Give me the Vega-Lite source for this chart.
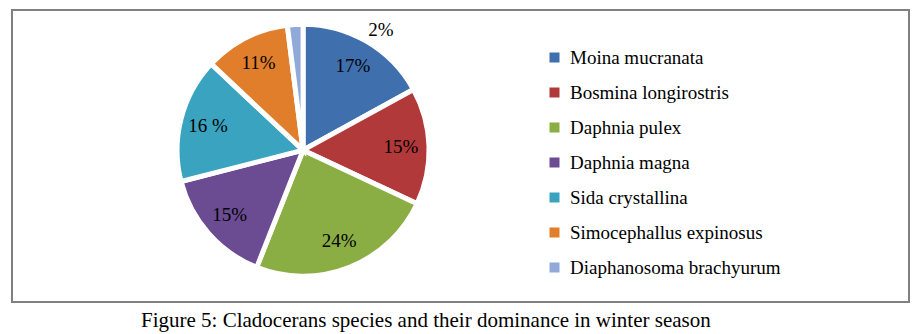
{
  "$schema": "https://vega.github.io/schema/vega-lite/v6.json",
  "width": 897,
  "height": 292,
  "autosize": {"type": "none"},
  "padding": {"left": 12, "top": 10, "right": 13, "bottom": 32},
  "background": "white",
  "view": {"stroke": "#808080", "strokeWidth": 2, "fill": "white"},
  "config": {
    "view": {"stroke": "#808080", "strokeWidth": 2},
    "font": "Liberation Serif"
  },
  "title": {
    "text": "Figure 5: Cladocerans species and their dominance in winter season",
    "orient": "bottom",
    "anchor": "start",
    "dx": 129,
    "offset": 8,
    "font": "Liberation Serif",
    "fontSize": 21,
    "fontWeight": "normal",
    "color": "black"
  },
  "data": {
    "values": [
      {"species": "Moina mucranata", "value": 17, "label": "17%", "rank": 1},
      {"species": "Bosmina longirostris", "value": 15, "label": "15%", "rank": 2},
      {"species": "Daphnia pulex", "value": 24, "label": "24%", "rank": 3},
      {"species": "Daphnia magna", "value": 15, "label": "15%", "rank": 4},
      {"species": "Sida crystallina", "value": 16, "label": "16 %", "rank": 5},
      {"species": "Simocephallus expinosus", "value": 11, "label": "11%", "rank": 6},
      {"species": "Diaphanosoma brachyurum", "value": 2, "label": "2%", "rank": 7}
    ]
  },
  "layer": [
    {
      "mark": {"type": "arc", "outerRadius": 126, "stroke": "white", "strokeWidth": 5, "x": {"expr": "width*0.3245"}, "y": {"expr": "height*0.48"}},
      "encoding": {
        "theta": {"field": "value", "type": "quantitative", "stack": true},
        "order": {"field": "rank", "type": "quantitative"},
        "color": {
          "field": "species",
          "type": "nominal",
          "scale": {
            "domain": ["Moina mucranata", "Bosmina longirostris", "Daphnia pulex", "Daphnia magna", "Sida crystallina", "Simocephallus expinosus", "Diaphanosoma brachyurum"],
            "range": ["#3F6FAD", "#B2393A", "#8AAE44", "#6B4C93", "#3AA3BF", "#E17E2B", "#90A9D8"]
          },
          "legend": {
            "title": null,
            "orient": "none",
            "legendX": 533,
            "legendY": 38,
            "symbolType": "square",
            "symbolSize": 100,
            "symbolStrokeWidth": 0,
            "labelFont": "Liberation Serif",
            "labelFontSize": 19,
            "labelColor": "black",
            "labelOffset": 6,
            "rowPadding": 15,
            "labelLimit": 400
          }
        }
      }
    },
    {
      "transform": [{"filter": "datum.rank < 7"}],
      "mark": {"type": "text", "radius": 98, "font": "Liberation Serif", "fontSize": 19, "color": "black", "x": {"expr": "width*0.3245"}, "y": {"expr": "height*0.48"}},
      "encoding": {
        "theta": {"field": "value", "type": "quantitative", "stack": true},
        "order": {"field": "rank", "type": "quantitative"},
        "text": {"field": "label"}
      }
    },
    {
      "transform": [{"filter": "datum.rank == 7"}],
      "mark": {"type": "text", "radius": 143, "thetaOffset": 0.513, "font": "Liberation Serif", "fontSize": 19, "color": "black", "x": {"expr": "width*0.3245"}, "y": {"expr": "height*0.48"}},
      "encoding": {
        "theta": {"field": "value", "type": "quantitative", "stack": true},
        "text": {"field": "label"}
      }
    }
  ]
}
